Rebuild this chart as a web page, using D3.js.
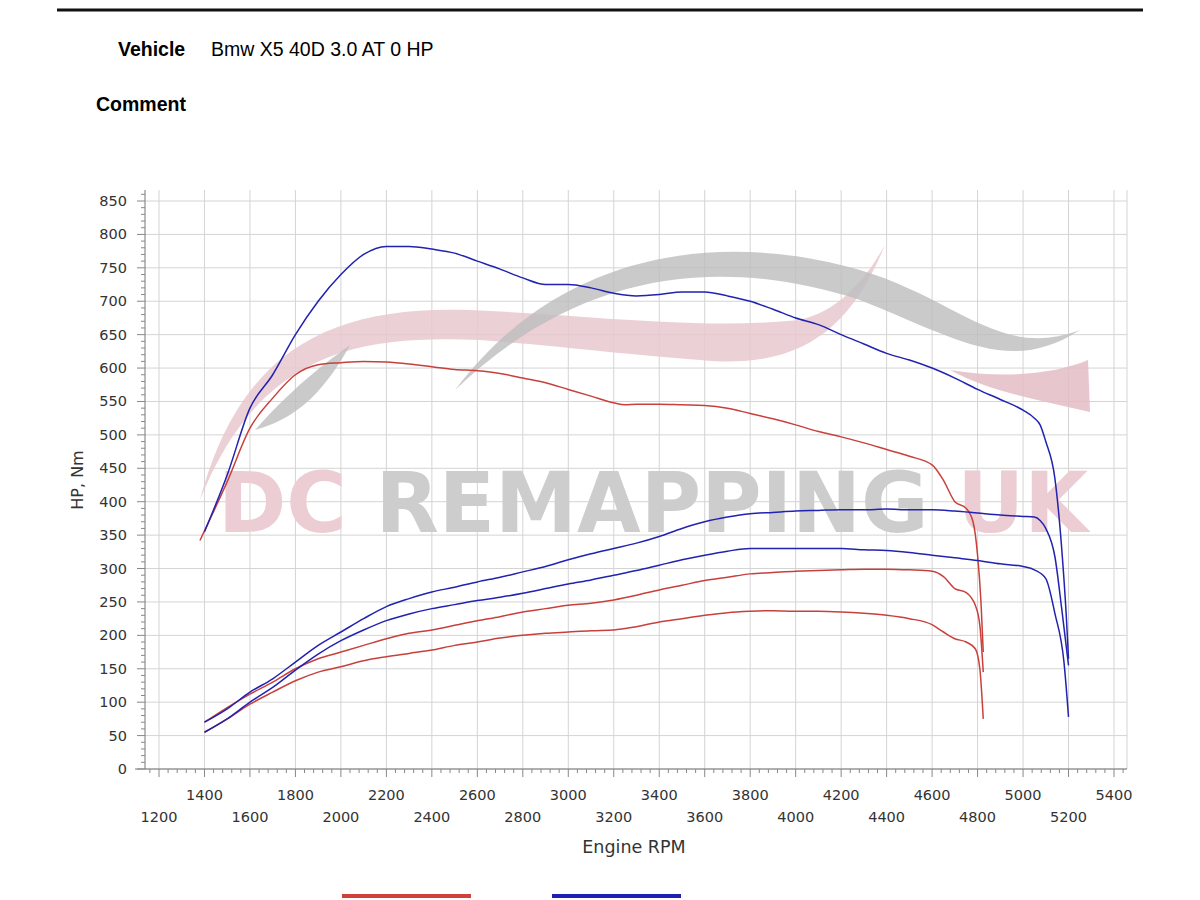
<!DOCTYPE html>
<html><head><meta charset="utf-8">
<script src="https://cdn.jsdelivr.net/npm/d3@7"></script>
<style>body{margin:0;background:#fff}svg{display:block}</style>
</head><body>
<svg id="c" width="1200" height="900"></svg>
<script>
const redTorque=[[1380,342],[1500,430],[1600,510],[1700,555],[1800,590],[1900,605],[2000,608],[2100,610],[2200,609],[2300,606],[2400,602],[2500,598],[2600,596],[2700,592],[2800,585],[2900,578],[3000,568],[3100,558],[3200,548],[3250,545],[3300,546],[3400,546],[3500,545],[3600,544],[3700,540],[3800,532],[3900,524],[4000,515],[4100,505],[4200,497],[4300,488],[4400,478],[4500,468],[4600,455],[4650,432],[4700,400],[4750,390],[4780,370],[4800,320],[4815,250],[4825,175]];
const redPower=[[1400,70],[1500,92],[1600,112],[1700,130],[1800,150],[1900,165],[2000,175],[2100,185],[2200,195],[2300,203],[2400,208],[2500,215],[2600,222],[2700,228],[2800,235],[2900,240],[3000,245],[3100,248],[3200,253],[3300,260],[3400,268],[3500,275],[3600,282],[3700,287],[3800,292],[3900,294],[4000,296],[4100,297],[4200,298],[4300,299],[4400,299],[4500,298],[4600,296],[4650,288],[4700,270],[4750,264],[4790,245],[4810,215],[4825,145]];
const redWheel=[[1400,55],[1500,75],[1600,97],[1700,115],[1800,132],[1900,145],[2000,153],[2100,162],[2200,168],[2300,173],[2400,178],[2500,185],[2600,190],[2700,196],[2800,200],[2900,203],[3000,205],[3100,207],[3200,208],[3300,213],[3400,220],[3500,225],[3600,230],[3700,234],[3800,236],[3900,237],[4000,236],[4100,236],[4200,235],[4300,233],[4400,230],[4500,225],[4600,216],[4650,205],[4700,195],[4750,190],[4790,180],[4810,150],[4825,75]];
const blueTorque=[[1400,355],[1500,440],[1600,540],[1700,590],[1800,650],[1900,700],[2000,740],[2100,770],[2200,782],[2300,782],[2400,778],[2500,772],[2600,760],[2700,748],[2800,735],[2900,725],[3000,725],[3100,720],[3200,712],[3300,708],[3400,710],[3500,714],[3600,714],[3700,708],[3800,700],[3900,688],[4000,675],[4100,665],[4200,650],[4300,636],[4400,622],[4500,612],[4600,600],[4700,585],[4800,568],[4900,553],[5000,537],[5050,525],[5075,515],[5100,490],[5140,435],[5170,330],[5190,230],[5200,165]];
const bluePower=[[1400,70],[1500,90],[1600,115],[1700,135],[1800,160],[1900,185],[2000,205],[2100,225],[2200,243],[2300,255],[2400,265],[2500,272],[2600,280],[2700,287],[2800,295],[2900,303],[3000,313],[3100,322],[3200,330],[3300,338],[3400,348],[3500,360],[3600,370],[3700,377],[3800,382],[3900,384],[4000,386],[4100,387],[4200,388],[4300,388],[4400,389],[4500,388],[4600,388],[4700,386],[4800,383],[4900,380],[5000,378],[5050,377],[5075,372],[5100,360],[5140,318],[5170,240],[5200,155]];
const blueWheel=[[1400,55],[1500,75],[1600,100],[1700,122],[1800,148],[1900,172],[2000,192],[2100,208],[2200,222],[2300,232],[2400,240],[2500,246],[2600,252],[2700,257],[2800,263],[2900,270],[3000,277],[3100,283],[3200,290],[3300,297],[3400,305],[3500,313],[3600,320],[3700,326],[3800,330],[3900,330],[4000,330],[4100,330],[4200,330],[4300,328],[4400,327],[4500,324],[4600,320],[4700,316],[4800,312],[4900,307],[5000,303],[5050,298],[5100,285],[5140,233],[5180,160],[5200,78]];
const xTicksTop=[1400,1800,2200,2600,3000,3400,3800,4200,4600,5000,5400];
const xTicksBottom=[1200,1600,2000,2400,2800,3200,3600,4000,4400,4800,5200];
const yTicks=d3.range(0,851,50);

const svg=d3.select("#c");
const x=d3.scaleLinear().domain([1200,5400]).range([159,1114]);
const y=d3.scaleLinear().domain([0,850]).range([769,201]);
const x0=145,x1=1127,yTop=190,yBot=769;

svg.append("line").attr("x1",57).attr("x2",1143).attr("y1",10).attr("y2",10).attr("stroke","#111").attr("stroke-width",3);
const hf="Liberation Sans, Arial, sans-serif";
svg.append("text").attr("x",118).attr("y",56).attr("font-family",hf).attr("font-weight","bold").attr("font-size",19.5).text("Vehicle");
svg.append("text").attr("x",211).attr("y",56).attr("font-family",hf).attr("font-size",19.5).text("Bmw X5 40D 3.0 AT 0 HP");
svg.append("text").attr("x",96).attr("y",111).attr("font-family",hf).attr("font-weight","bold").attr("font-size",19.5).text("Comment");

const g=svg.append("g");
g.selectAll(".gy").data(yTicks).join("line").attr("x1",x0).attr("x2",x1).attr("y1",d=>y(d)).attr("y2",d=>y(d)).attr("stroke","#d4d4d4");
g.selectAll(".gx").data(d3.range(1200,5401,200)).join("line").attr("x1",d=>x(d)).attr("x2",d=>x(d)).attr("y1",yTop).attr("y2",yBot).attr("stroke","#d4d4d4");
g.append("line").attr("x1",x1).attr("x2",x1).attr("y1",yTop).attr("y2",yBot).attr("stroke","#d4d4d4");

const wm=svg.append("g");
wm.append("path").attr("d","M200,500 C240,350 330,305 470,310 C600,316 700,330 800,320 C840,310 865,280 885,245 C850,330 800,370 700,360 C600,352 550,345 480,340 C360,335 260,350 200,500Z").attr("fill","#e8c9cf").attr("opacity",0.85);
wm.append("path").attr("d","M455,390 C560,250 720,230 860,270 C960,300 1000,360 1080,330 C1010,375 960,340 860,300 C720,255 580,270 455,390Z").attr("fill","#bdbdbd").attr("opacity",0.8);
wm.append("path").attr("d","M255,430 C300,380 330,360 350,345 C320,400 290,420 255,430Z").attr("fill","#bdbdbd").attr("opacity",0.8);
wm.append("path").attr("d","M950,370 C1010,380 1060,372 1088,360 L1090,412 C1040,400 990,392 950,370Z").attr("fill","#e3bcc4").attr("opacity",0.85);
const wt=wm.append("text").attr("y",532).attr("font-family","DejaVu Sans, sans-serif").attr("font-weight","bold").attr("font-size",84).attr("textLength",870).attr("lengthAdjust","spacingAndGlyphs").attr("x",218);
wt.append("tspan").attr("fill","#ebcdd3").text("DC ");
wt.append("tspan").attr("fill","#cdcdcd").text("REMAPPING ");
wt.append("tspan").attr("fill","#ebcdd3").text("UK");

const af="DejaVu Sans, Verdana, sans-serif";
const ax=svg.append("g");
ax.append("line").attr("x1",x0).attr("x2",x0).attr("y1",yTop).attr("y2",yBot).attr("stroke","#777");
ax.append("line").attr("x1",x0-10).attr("x2",x1).attr("y1",yBot).attr("y2",yBot).attr("stroke","#777");
ax.selectAll(".ym").data(d3.range(0,861,10)).join("line").attr("x1",d=>d%50?x0-4:x0-8).attr("x2",x0).attr("y1",d=>y(d)).attr("y2",d=>y(d)).attr("stroke","#888");
ax.selectAll(".xm").data(d3.range(1160,5441,40)).join("line").attr("x1",d=>x(d)).attr("x2",d=>x(d)).attr("y1",yBot).attr("y2",d=>d%200?yBot+4:yBot+8).attr("stroke","#888");
ax.selectAll(".yl").data(yTicks).join("text").attr("x",x0-18).attr("y",d=>y(d)+5).attr("text-anchor","end").attr("font-family",af).attr("font-size",14.5).attr("fill","#333").text(d=>d);
ax.selectAll(".xl1").data(xTicksTop).join("text").attr("x",d=>x(d)).attr("y",800).attr("text-anchor","middle").attr("font-family",af).attr("font-size",14.5).attr("fill","#333").text(d=>d);
ax.selectAll(".xl2").data(xTicksBottom).join("text").attr("x",d=>x(d)).attr("y",822).attr("text-anchor","middle").attr("font-family",af).attr("font-size",14.5).attr("fill","#333").text(d=>d);
svg.append("text").attr("x",634).attr("y",853).attr("text-anchor","middle").attr("font-family",af).attr("font-size",17.5).attr("fill","#333").text("Engine RPM");
svg.append("text").attr("transform","translate(83,480) rotate(-90)").attr("text-anchor","middle").attr("font-family",af).attr("font-size",16).attr("fill","#333").text("HP, Nm");

const line=d3.line().x(d=>x(d[0])).y(d=>y(d[1])).curve(d3.curveMonotoneX);
const series=[[redTorque,"#c8403c"],[redPower,"#c8403c"],[redWheel,"#c8403c"],[blueTorque,"#2222b0"],[bluePower,"#2222b0"],[blueWheel,"#2222b0"]];
svg.selectAll(".s").data(series).join("path").attr("d",d=>line(d[0])).attr("fill","none").attr("stroke",d=>d[1]).attr("stroke-width",1.5);

svg.append("line").attr("x1",342).attr("x2",471).attr("y1",896).attr("y2",896).attr("stroke","#d0413c").attr("stroke-width",4);
svg.append("line").attr("x1",552).attr("x2",681).attr("y1",896).attr("y2",896).attr("stroke","#2020b0").attr("stroke-width",4);
</script>
</body></html>
